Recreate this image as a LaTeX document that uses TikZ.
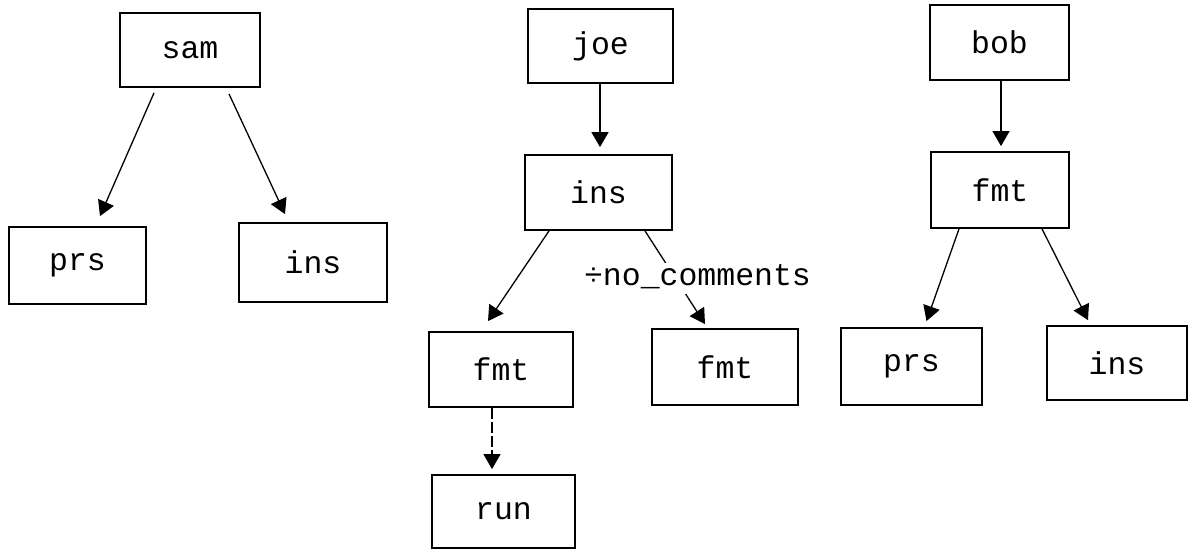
\documentclass[tikz,border=0pt]{standalone}
\usepackage{fontspec}
\newfontfamily\plotfont{Liberation Mono}
\usetikzlibrary{arrows.meta}
\tikzset{
  box/.style={draw, line width=1.8pt, inner sep=0pt, anchor=center,
    font=\plotfont\fontsize{31.5}{36}\selectfont},
  conn/.style={line width=1.3pt, -{Triangle[length=15pt,width=17pt]}},
  dconn/.style={conn, dash pattern=on 11pt off 3pt},
  lbl/.style={fill=white, inner sep=0pt, text height=22pt, text depth=9pt,
    font=\plotfont\fontsize{31.5}{36}\selectfont}
}
\begin{document}
\begin{tikzpicture}[x=1pt, y=-1pt]
\useasboundingbox (0,0) rectangle (1199,551);
% left tree
\node[box, minimum width=140pt, minimum height=74pt] (sam) at (190,50) {sam};
\node[box, minimum width=137pt, minimum height=77pt] (prsL) at (77.5,265.5) {prs};
\node[box, minimum width=148pt, minimum height=79pt] (insL) at (313,262.5) {ins};
\draw[conn] ([xshift=-36pt,yshift=-5pt]sam.south) -- ([xshift=22.5pt,yshift=10pt]prsL.north);
\draw[conn] ([xshift=39pt,yshift=-6pt]sam.south) -- ([xshift=-28pt,yshift=8pt]insL.north);
% middle tree
\node[box, minimum width=145pt, minimum height=74pt] (joe) at (600.5,46) {joe};
\node[box, minimum width=147pt, minimum height=75pt] (insM) at (598.5,192.5) {ins};
\node[box, minimum width=144pt, minimum height=75pt] (fmtA) at (501,369.5) {fmt};
\node[box, minimum width=146pt, minimum height=76pt] (fmtB) at (725,367) {fmt};
\node[box, minimum width=143pt, minimum height=73pt] (run) at (503.5,511.5) {run};
\draw[conn] ([xshift=-0.5pt]joe.south) -- ([xshift=1.5pt,yshift=7pt]insM.north);
\draw[conn] ([xshift=-49.5pt]insM.south) -- ([xshift=-13pt,yshift=10pt]fmtA.north);
\draw[conn] ([xshift=46.5pt]insM.south) -- ([xshift=-20pt,yshift=4pt]fmtB.north);
\node[lbl, anchor=base] (opt) at (697.5,285) {÷no\_comments};
\draw[dconn] ([xshift=-9pt]fmtA.south) -- ([xshift=-11.5pt,yshift=5pt]run.north);
% right tree
\node[box, minimum width=139pt, minimum height=75pt] (bob) at (999.5,42.5) {bob};
\node[box, minimum width=138pt, minimum height=76pt] (fmtR) at (1000,190) {fmt};
\node[box, minimum width=141pt, minimum height=77pt] (prsR) at (911.5,366.5) {prs};
\node[box, minimum width=140pt, minimum height=74pt] (insR) at (1117,363) {ins};
\draw[conn] ([xshift=1.5pt]bob.south) -- ([xshift=1pt,yshift=5pt]fmtR.north);
\draw[conn] ([xshift=-41pt]fmtR.south) -- ([xshift=15pt,yshift=6pt]prsR.north);
\draw[conn] ([xshift=42pt]fmtR.south) -- ([xshift=-29pt,yshift=5pt]insR.north);
\end{tikzpicture}
\end{document}
